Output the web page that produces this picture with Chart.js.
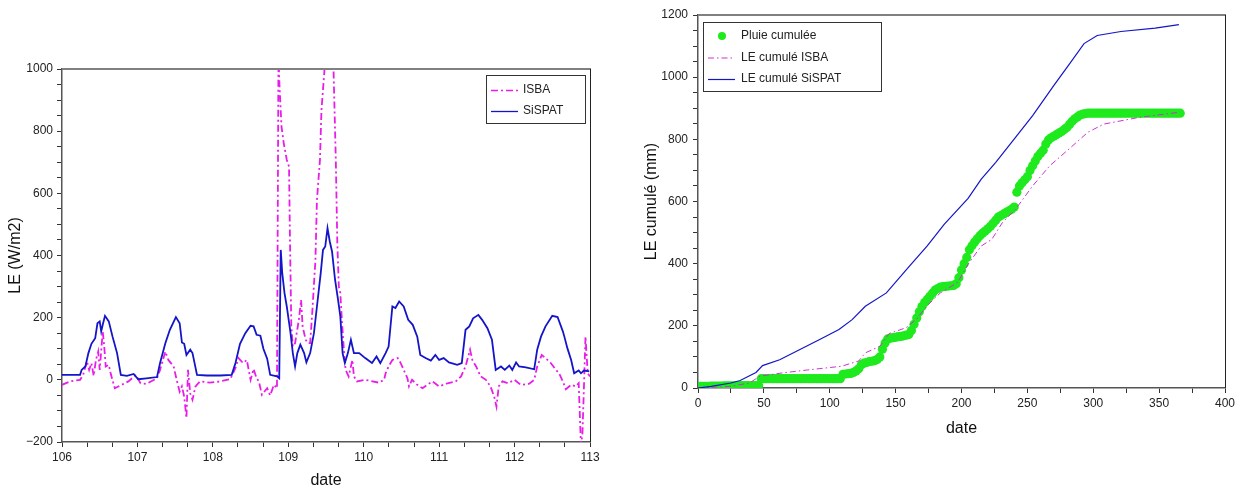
<!DOCTYPE html>
<html>
<head>
<meta charset="utf-8">
<script src="https://cdn.jsdelivr.net/npm/chart.js@4.4.1/dist/chart.umd.min.js"></script>
<style>
  html, body { margin: 0; padding: 0; background: #fff; }
  #wrap { position: relative; width: 1240px; height: 491px; }
  #leLeft, #leRight { position: absolute; top: 0; }
  #leLeft { left: 0; }
  #leRight { left: 620px; }
</style>
</head>
<body>
<div id="wrap">
  <canvas id="leLeft" width="620" height="491"></canvas>
  <canvas id="leRight" width="620" height="491"></canvas>
</div>
<script>
// ---- left chart : LE (W/m2), days 106-113 ----
const isbaT = [106.00, 106.11, 106.24, 106.28, 106.33, 106.36, 106.39, 106.42, 106.45, 106.48, 106.50, 106.54, 106.56, 106.58, 106.62, 106.65, 106.70, 106.79, 106.88, 106.98,
  107.04, 107.12, 107.26, 107.30, 107.37, 107.41, 107.48, 107.52, 107.56, 107.59, 107.62, 107.65, 107.67, 107.70, 107.73, 107.77, 107.83, 107.96,
  108.10, 108.23, 108.30, 108.34, 108.40, 108.45, 108.50, 108.54, 108.58, 108.61, 108.65, 108.72, 108.76, 108.81, 108.85, 108.87, 108.88, 108.91, 108.94, 108.98,
  109.01, 109.02, 109.04, 109.06, 109.09, 109.14, 109.17, 109.19, 109.23, 109.26, 109.29, 109.32, 109.36, 109.38, 109.42, 109.44, 109.47, 109.49, 109.52, 109.56,
  109.60, 109.63, 109.65, 109.67, 109.69, 109.71, 109.74, 109.76, 109.80, 109.85, 109.87, 109.91, 110.02, 110.20, 110.27, 110.29, 110.33, 110.38, 110.45, 110.49,
  110.53, 110.58, 110.60, 110.64, 110.71, 110.78, 110.84, 110.91, 111.00, 111.11, 111.22, 111.29, 111.35, 111.41, 111.44, 111.49, 111.55, 111.62, 111.68, 111.73,
  111.76, 111.79, 111.84, 111.91, 112.00, 112.08, 112.19, 112.26, 112.30, 112.36, 112.41, 112.48, 112.55, 112.59, 112.64, 112.68, 112.75, 112.81, 112.85, 112.88,
  112.90, 112.92, 112.94, 112.97, 113.00];
const isbaLE = [-16, -5, 0, 16, 59, 32, 54, 13, 64, 91, 32, 156, 107, 43, 48, 16, -27, -16, -5, 16,
  -11, -13, 5, 32, 91, 64, 43, 0, -38, -21, -54, -123, 32, -43, -64, -21, -5, -9,
  -5, 2, 38, 70, 54, 64, 0, 35, 5, -5, -48, -27, -50, -16, -27, 1050, 965, 815, 761, 708,
  686, 493, 172, 107, 118, 193, 257, 172, 129, 118, 118, 225, 386, 579, 708, 869, 965, 1030, 1150, 1150,
  997, 708, 440, 300, 279, 193, 86, 32, 11, 64, 11, -5, 0, -9, 0, 21, 43, 64, 70, 54,
  32, 5, -21, 0, -16, -27, -16, -5, -21, -11, -5, 11, 43, 97, 64, 43, 11, 0, -21, -54,
  -86, -21, -5, -11, 0, -16, -13, 0, 43, 80, 70, 54, 32, 21, -5, -30, -16, -21, -11, -210,
  -172, -21, 139, 21, 11];

const sispatT = [106.00, 106.24, 106.26, 106.31, 106.35, 106.39, 106.44, 106.47, 106.50, 106.52, 106.54, 106.57, 106.62, 106.67, 106.73, 106.78, 106.86, 106.95,
  107.01, 107.12, 107.26, 107.30, 107.37, 107.43, 107.51, 107.56, 107.59, 107.62, 107.65, 107.70, 107.73, 107.79, 107.92,
  108.10, 108.25, 108.30, 108.36, 108.43, 108.50, 108.54, 108.58, 108.63, 108.67, 108.72, 108.76, 108.85, 108.88, 108.90, 108.92, 108.95, 108.98,
  109.03, 109.06, 109.09, 109.12, 109.16, 109.21, 109.24, 109.29, 109.34, 109.38, 109.43, 109.46, 109.49, 109.52, 109.55, 109.58, 109.62, 109.66, 109.69,
  109.72, 109.75, 109.79, 109.83, 109.87, 109.94, 110.02, 110.11, 110.17, 110.22, 110.29, 110.33, 110.38, 110.42, 110.47, 110.53, 110.59, 110.65, 110.71,
  110.75, 110.82, 110.89, 110.95, 111.00, 111.06, 111.13, 111.24, 111.30, 111.35, 111.40, 111.45, 111.52, 111.57, 111.64, 111.70, 111.75, 111.82, 111.87,
  111.93, 111.97, 112.02, 112.06, 112.15, 112.26, 112.30, 112.35, 112.41, 112.50, 112.57, 112.64, 112.66, 112.70, 112.75, 112.79, 112.85, 112.88, 112.92, 112.99];
const sispatLE = [16, 16, 32, 43, 86, 116, 134, 182, 188, 156, 177, 206, 188, 139, 86, 16, 13, 19,
  2, 5, 9, 54, 118, 161, 202, 182, 120, 116, 80, 97, 86, 16, 14,
  14, 16, 54, 116, 150, 174, 172, 145, 142, 100, 68, 16, 11, 5, 418, 343, 279, 236,
  150, 86, 43, 86, 113, 86, 56, 86, 150, 236, 343, 418, 429, 488, 445, 413, 322, 257, 204,
  86, 54, 86, 129, 86, 86, 70, 54, 75, 54, 86, 107, 236, 231, 252, 236, 193, 177, 139,
  80, 70, 62, 80, 64, 70, 56, 48, 54, 161, 172, 198, 209, 193, 166, 129, 32, 43, 32,
  46, 32, 56, 43, 40, 34, 97, 139, 172, 206, 202, 156, 139, 102, 64, 21, 30, 21, 30, 27];

const leftXMajor = [106, 107, 108, 109, 110, 111, 112, 113];
const leftYMajor = [-200, 0, 200, 400, 600, 800, 1000];

// ---- right chart : cumulated values (mm), days 0-365 ----
const rainDays = Array.from({ length: 184 }, (_, i) => i * 2);
const rainCum = [5, 5, 5, 5, 5, 6, 6, 6, 6, 6, 7, 7, 7, 7, 7, 7, 8, 8, 8, 8, 8, 8, 8, 8,
  30, 30, 30, 30, 30, 30, 30, 30, 30, 30, 30, 30, 30, 30, 30, 30, 30, 30, 30, 30, 30, 30, 30, 30, 30, 30, 30, 30, 30, 30, 30,
  44, 45, 46, 47, 50, 55, 62,
  75, 80, 82, 85, 86, 88, 92, 100,
  125, 145,
  158, 160, 162, 163, 165, 166, 168, 170, 172,
  185, 205, 225, 245, 262,
  275, 285, 295, 305, 315, 320,
  325, 326, 327, 328, 329, 330, 335,
  355, 380, 400, 420,
  445, 458, 470, 480,
  490, 498, 505, 512, 520, 530, 540, 550,
  555, 560, 565, 570, 575, 582,
  630, 650, 660, 670, 680, 700,
  715, 730, 745, 755, 765, 785, 798,
  805, 810, 815, 820, 825, 832, 838, 848, 858,
  866, 872, 878, 881, 883,
  884, 884, 884, 884, 884, 884, 884, 884, 884, 884, 884, 884, 884, 884, 884, 884, 884, 884,
  884, 884, 884, 884, 884, 884, 884, 884, 884, 884, 884, 884, 884, 884, 884, 884, 884, 884];

const isbaCumDay = [0, 24, 39, 47, 63, 83, 109, 122, 127, 138, 145, 158, 166, 174, 184, 197, 205, 215, 223, 231, 241, 254, 267, 280, 296, 308, 334, 365];
const isbaCum = [0, 5, 16, 38, 48, 58, 70, 87, 113, 134, 175, 194, 222, 265, 306, 339, 398, 457, 478, 532, 575, 650, 715, 763, 823, 849, 870, 887];

const sispatCumDay = [0, 10, 25, 32, 44, 49, 62, 77, 92, 107, 117, 127, 143, 160, 174, 187, 205, 215, 226, 241, 254, 270, 282, 293, 303, 321, 347, 365];
const sispatCum = [0, 5, 16, 24, 50, 72, 91, 123, 155, 188, 220, 263, 306, 390, 457, 527, 610, 672, 726, 806, 876, 973, 1043, 1108, 1134, 1147, 1158, 1169];

const rightXMajor = [0, 50, 100, 150, 200, 250, 300, 350, 400];
const rightYMajor = [0, 200, 400, 600, 800, 1000, 1200];

const MAGENTA = '#e81ee8';
const BLUE = '#1414c8';
const GREEN = '#1eea1e';

Chart.defaults.font.family = "'Liberation Sans', Arial, sans-serif";
Chart.defaults.color = '#222';

const pairs = (xs, ys) => xs.map((x, i) => ({ x, y: ys[i] }));

// major ticks plus the minor ones between them
function withMinor(major, parts) {
  const out = [];
  for (let i = 0; i < major.length - 1; i++) {
    const step = (major[i + 1] - major[i]) / parts;
    for (let k = 0; k < parts; k++) out.push(major[i] + k * step);
  }
  out.push(major[major.length - 1]);
  return out;
}
const isMajor = (v, major) => major.some(m => Math.abs(m - v) < 1e-6);
const fmt = v => (v < 0 ? '\u2212' + Math.abs(v) : String(v));

function axis(opts) {
  return {
    type: 'linear',
    min: opts.major[0],
    max: opts.major[opts.major.length - 1],
    afterBuildTicks: s => { s.ticks = withMinor(opts.major, opts.parts).map(v => ({ value: v })); },
    afterFit: s => { if (opts.horizontal) s.height = opts.size; else s.width = opts.size; },
    ticks: {
      autoSkip: false, maxRotation: 0, padding: opts.pad, color: '#222',
      font: { size: 12 },
      callback: v => (isMajor(v, opts.major) ? fmt(v) : '')
    },
    grid: { drawOnChartArea: false, drawTicks: true, tickLength: 5, color: '#333' },
    border: { color: '#555', width: 1.5 },
    title: { display: true, text: opts.title, color: '#111', font: { size: 16 }, padding: opts.titlePad }
  };
}

const frame = {
  id: 'frame',
  afterDraw(chart) {
    const { ctx, chartArea: a } = chart;
    ctx.save();
    ctx.strokeStyle = '#808080';
    ctx.lineWidth = 2;
    ctx.beginPath(); ctx.moveTo(a.left, a.top); ctx.lineTo(a.right + 1, a.top); ctx.stroke();
    ctx.strokeStyle = '#222';
    ctx.lineWidth = 1;
    ctx.beginPath(); ctx.moveTo(a.right + 0.5, a.top); ctx.lineTo(a.right + 0.5, a.bottom); ctx.stroke();
    ctx.restore();
  }
};

const boxLegend = {
  id: 'boxLegend',
  afterDraw(chart, args, o) {
    const { ctx } = chart;
    ctx.save();
    ctx.fillStyle = '#fff';
    ctx.fillRect(o.x, o.y, o.w, o.h);
    ctx.strokeStyle = '#333';
    ctx.lineWidth = 1;
    ctx.strokeRect(o.x + 0.5, o.y + 0.5, o.w, o.h);
    ctx.font = "12px 'Liberation Sans', Arial, sans-serif";
    ctx.textBaseline = 'middle';
    chart.data.datasets.forEach((ds, i) => {
      const y = o.y + o.first + i * o.gap;
      if (ds.showLine === false) {
        ctx.fillStyle = ds.backgroundColor;
        ctx.beginPath(); ctx.arc(o.x + o.dot, y, 4, 0, Math.PI * 2); ctx.fill();
      } else {
        ctx.strokeStyle = ds.borderColor;
        ctx.lineWidth = Math.min(ds.borderWidth, 1.3);
        ctx.setLineDash(ds.borderDash || []);
        ctx.beginPath(); ctx.moveTo(o.x + 5, y + 0.5); ctx.lineTo(o.x + 32, y + 0.5); ctx.stroke();
        ctx.setLineDash([]);
      }
      ctx.fillStyle = '#222';
      ctx.fillText(ds.label, o.x + o.text, y);
    });
    ctx.restore();
  }
};

new Chart(document.getElementById('leLeft'), {
  type: 'line',
  data: {
    datasets: [
      { label: 'ISBA', data: pairs(isbaT, isbaLE), borderColor: MAGENTA, borderWidth: 1.8, borderDash: [7, 3, 2, 3], pointRadius: 0, order: 1 },
      { label: 'SiSPAT', data: pairs(sispatT, sispatLE), borderColor: BLUE, borderWidth: 1.8, pointRadius: 0, order: 0 }
    ]
  },
  options: {
    responsive: false, animation: false, events: [],
    layout: { padding: { left: 0, top: 69, right: 30, bottom: 1 } },
    elements: { line: { tension: 0, fill: false } },
    plugins: {
      legend: { display: false }, tooltip: { enabled: false },
      boxLegend: { x: 486, y: 75, w: 99, h: 48, first: 15, gap: 21, dot: 18, text: 37 }
    },
    scales: {
      x: axis({ major: leftXMajor, parts: 3, horizontal: true, size: 48, pad: 3, title: 'date', titlePad: { top: 0, bottom: 0 } }),
      y: axis({ major: leftYMajor, parts: 4, horizontal: false, size: 62, pad: 4, title: 'LE (W/m2)', titlePad: { top: 6, bottom: 0 } })
    }
  },
  plugins: [frame, boxLegend]
});

new Chart(document.getElementById('leRight'), {
  type: 'line',
  data: {
    datasets: [
      { label: 'Pluie cumulée', data: pairs(rainDays, rainCum), showLine: false, pointRadius: 4.6, pointBorderWidth: 0, backgroundColor: GREEN, borderColor: GREEN, order: 2 },
      { label: 'LE cumulé ISBA', data: pairs(isbaCumDay, isbaCum), borderColor: '#cc33cc', borderWidth: 1, borderDash: [6, 3, 1.5, 3], pointRadius: 0, order: 1 },
      { label: 'LE cumulé SiSPAT', data: pairs(sispatCumDay, sispatCum), borderColor: BLUE, borderWidth: 1.2, pointRadius: 0, order: 0 }
    ]
  },
  options: {
    responsive: false, animation: false, events: [],
    layout: { padding: { left: 0, top: 15, right: 15, bottom: 53 } },
    elements: { line: { tension: 0, fill: false } },
    plugins: {
      legend: { display: false }, tooltip: { enabled: false },
      boxLegend: { x: 83, y: 22, w: 178, h: 69, first: 14, gap: 21.5, dot: 19, text: 38 }
    },
    scales: {
      x: axis({ major: rightXMajor, parts: 2, horizontal: true, size: 50, pad: 3, title: 'date', titlePad: { top: 0, bottom: 0 } }),
      y: axis({ major: rightYMajor, parts: 4, horizontal: false, size: 78, pad: 5, title: 'LE cumulé (mm)', titlePad: { top: 22, bottom: 0 } })
    }
  },
  plugins: [frame, boxLegend]
});
</script>
</body>
</html>
